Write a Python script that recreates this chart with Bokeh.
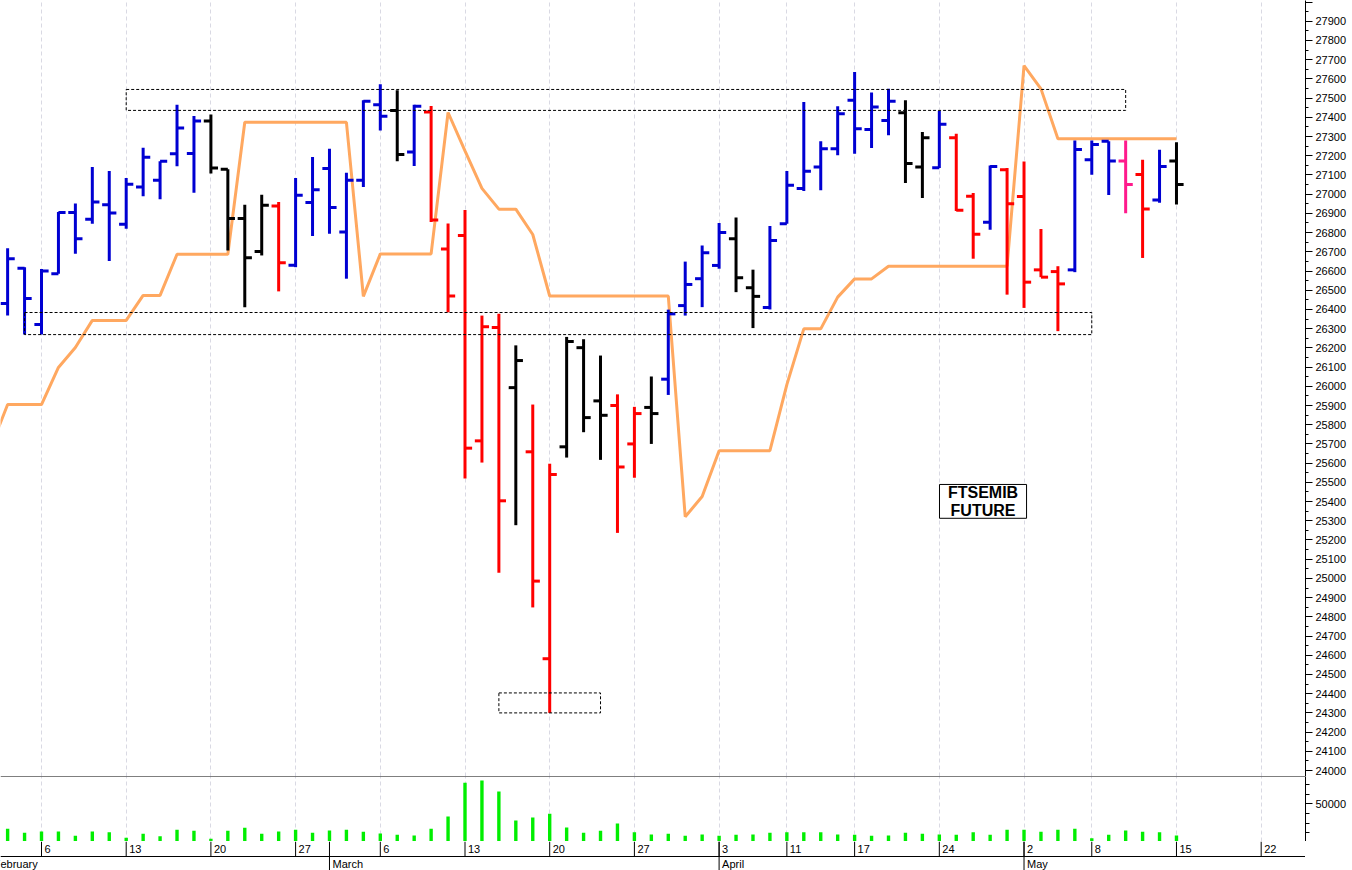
import numpy as np
import pandas as pd
from bokeh.plotting import figure
from bokeh.layouts import column
from bokeh.models import (Range1d, LinearAxis, FixedTicker, Grid, Span, Label,
                          BoxAnnotation, ColumnDataSource)
from bokeh.core.properties import value
from bokeh.embed import file_html
from bokeh.resources import INLINE

# ---------------- data ----------------
holidays = ["2023-04-07", "2023-04-10", "2023-05-01"]
first_bar = "2023-02-02"

opens = [26431, 26615, 26322, 26586, 26905, 26869, 26945, 26843, 27037, 27072,
         27211, 27212, 27381, 27130, 26873, 26702, 26938, 26630, 26956, 27133,
         26803, 27072, 27466, 27436, 27219, 27428, 26714, 26785, 25716, 26306,
         25993, 25659, 24582, 25685, 26201, 25924, 25900, 25700, 25890, 26037,
         26420, 26560, 26629, 26768, 26513, 26410, 26846, 27029, 27141, 27237,
         27489, 27336, 27384, 27424, 27141, 27138, 27294, 26989, 26854, 27127,
         26988, 26606, 26597, 26606, 27179, 27275, 27172, 27102, 26970, 27172]
highs = [26718, 26620, 26610, 26907, 26951, 27141, 27120, 27084, 27242, 27171,
         27466, 27407, 27414, 27130, 26945, 26997, 26959, 27084, 27193, 27237,
         27112, 27489, 27572, 27541, 27466, 27459, 26847, 26917, 26368, 26377,
         26213, 25905, 25597, 26257, 26245, 26160, 25958, 25893, 26051, 26399,
         26649, 26733, 26850, 26878, 26607, 26834, 27120, 27480, 27275, 27457,
         27636, 27529, 27549, 27489, 27323, 27433, 27315, 27006, 27149, 27136,
         27170, 26819, 26625, 27279, 27279, 27275, 27279, 27179, 27231, 27270]
lows = [26369, 26270, 26270, 26586, 26690, 26846, 26652, 26820, 26989, 26973,
        27145, 27008, 27107, 26707, 26412, 26681, 26494, 26620, 26782, 26794,
        26560, 27037, 27332, 27171, 27146, 26855, 26385, 25520, 25603, 25030,
        25277, 24849, 24300, 25629, 25761, 25617, 25237, 25524, 25700, 25955,
        26368, 26412, 26612, 26490, 26303, 26400, 26846, 27016, 27020, 27202,
        27211, 27240, 27306, 27058, 26980, 27136, 26912, 26664, 26815, 26477,
        26408, 26568, 26287, 26594, 27101, 26996, 26901, 26668, 26955, 26946]
closes = [26664, 26457, 26600, 26905, 26768, 26959, 26902, 27051, 27192, 27171,
          27344, 27381, 27136, 26873, 26669, 26942, 26643, 26994, 27023, 26930,
          27072, 27483, 27405, 27207, 27457, 26866, 26470, 25678, 26310, 25404,
          26134, 24986, 25541, 26233, 25837, 25849, 25580, 25858, 25858, 26377,
          26530, 26695, 26800, 26565, 26468, 26759, 27046, 27119, 27237, 27419,
          27341, 27454, 27483, 27159, 27294, 27364, 26916, 26791, 27144, 26950,
          26542, 26568, 26533, 27232, 27258, 27172, 27050, 26923, 27144, 27050]
bar_state = (["b"] * 12 + ["k"] * 4 + ["r"] + ["b"] * 6 + ["k"] + ["b"] + ["r"] * 5
             + ["k"] + ["r"] * 2 + ["k"] * 3 + ["r"] * 2 + ["k"] + ["b"] * 4 + ["k"] * 2
             + ["b"] * 8 + ["k"] * 2 + ["b"] + ["r"] * 2 + ["b"] + ["r"] * 4 + ["b"] * 3
             + ["p"] + ["r"] + ["b"] + ["k"])
volume = [24200, 20100, 21400, 21400, 17000, 21400, 20700, 14900, 19100, 16600,
          23200, 22200, 13900, 22200, 25300, 19100, 21400, 23200, 20100, 22500,
          23200, 21100, 19400, 18000, 17300, 24200, 36900, 71600, 74000, 62700,
          32800, 35900, 39700, 25600, 20100, 22200, 29700, 20700, 18300, 19100,
          17000, 18300, 17000, 18000, 18300, 20100, 20700, 20700, 20700, 18300,
          18000, 17000, 17300, 20100, 19100, 18300, 18000, 20700, 18000, 23200,
          23200, 21100, 23200, 24200, 14500, 18000, 22500, 21100, 20700, 17300]

stop_start = "2023-02-01"
stop_line = ([25680, 25905, 25905, 25905, 26098, 26202, 26343, 26343, 26343,
              26473, 26473] + [26687] * 4 + [27374] * 7 + [26468] + [26689] * 4
             + [27425, 27225, 27030, 26922, 26922, 26790] + [26470] * 8
             + [25321, 25426] + [25665] * 4 + [26009, 26299, 26299, 26464, 26559, 26559]
             + [26625] * 8 + [27669, 27548] + [27288] * 8)

zone_left = ["2023-02-13", "2023-02-03", "2023-03-15"]
zone_right = ["2023-05-10", "2023-05-08", "2023-03-23"]
zone_bottom = [27436, 26269, 24300]
zone_top = [27545, 26384, 24404]

price_ticks = list(range(24000, 28001, 100))
volume_label_ticks = [50000]
volume_minor_ticks = [20000, 30000, 40000, 60000, 70000]
title_text = "FTSEMIB\nFUTURE"

# ---------------- layout / style ----------------
BAR_COLORS = {"b": "#0000d2", "k": "#000000", "r": "#ff0000", "p": "#ff1a8c"}
FONT = "Liberation Sans"
FW, H1, H2, H3 = 1305, 776, 65, 29
PRICE_LO, PRICE_HI = 23969, 28008
VOL_LO, VOL_HI = 11130, 78150

cal = pd.bdate_range("2023-02-01", "2023-05-31")
cal = cal[~cal.isin(pd.to_datetime(holidays))]
pos = {d: k for k, d in enumerate(cal)}


def xi(d):
    return pos[pd.Timestamp(d)]


feb6 = xi("2023-02-06")
X_START = feb6 - 41 / 16.94
X_END = feb6 + (1305 - 41) / 16.94
XR = Range1d(X_START, X_END)

x0 = xi(first_bar)
xs = x0 + np.arange(len(opens))
TICK = 0.42
src = ColumnDataSource(dict(
    x=xs, xl=xs - TICK, xr=xs + TICK, o=opens, h=highs, l=lows, c=closes,
    color=[BAR_COLORS[s] for s in bar_state]))

week_x, week_lbl, month_x, month_lbl = [], [], [], []
for k, d in enumerate(cal):
    if k > X_END - 1:
        break
    if k > 0 and d.isocalendar()[1] != cal[k - 1].isocalendar()[1]:
        week_x.append(k)
        week_lbl.append(str(d.day))
    if k == 0 or d.month != cal[k - 1].month:
        month_x.append(k)
        month_lbl.append(d.strftime("%B"))

common = dict(frame_width=FW, x_range=XR, output_backend="svg", toolbar_location=None,
              x_axis_location=None, y_axis_location=None, min_border=0,
              outline_line_color=None, background_fill_color="white",
              border_fill_color="white")


def clean(p):
    p.center = [r for r in p.center if not isinstance(r, Grid)]
    return p


def week_grid():
    return Grid(dimension=0, ticker=FixedTicker(ticks=week_x),
                grid_line_color="#d9d9e3", grid_line_dash="4 3")


# ---------------- price panel ----------------
p1 = clean(figure(frame_height=H1, y_range=Range1d(PRICE_LO, PRICE_HI), **common))
p1.add_layout(week_grid())
ax1 = LinearAxis(ticker=FixedTicker(ticks=price_ticks,
                                    minor_ticks=list(range(24050, 28000, 100))),
                 major_label_overrides={28000: ""},
                 major_tick_out=7, major_tick_in=0, minor_tick_out=3, minor_tick_in=0,
                 major_label_standoff=3, major_label_text_font=FONT,
                 major_label_text_font_size="11px", major_label_text_color="black",
                 axis_line_color="black", major_tick_line_color="black",
                 minor_tick_line_color="black")
p1.add_layout(ax1, "right")

stop_x = xi(stop_start) + np.arange(len(stop_line))
p1.line(stop_x, stop_line, line_color="#ffa860", line_width=3)

p1.segment(x0="x", y0="l", x1="x", y1="h", line_color="color", line_width=3,
           line_cap="butt", source=src)
p1.segment(x0="xl", y0="o", x1="x", y1="o", line_color="color", line_width=3,
           line_cap="butt", source=src)
p1.segment(x0="x", y0="c", x1="xr", y1="c", line_color="color", line_width=3,
           line_cap="butt", source=src)

p1.quad(left=[xi(d) for d in zone_left], right=[xi(d) for d in zone_right],
        bottom=zone_bottom, top=zone_top, fill_color=None, line_color="black",
        line_width=1, line_dash="3 2")

box_c = xi("2023-04-26") + 0.58
p1.add_layout(BoxAnnotation(left=box_c - 2.57, right=box_c + 2.57, bottom=25313,
                            top=25489, fill_color="white", fill_alpha=1.0,
                            line_color="black", line_alpha=1.0, line_width=1))
p1.add_layout(Label(x=box_c, y=25401, text=title_text, text_align="center",
                    text_baseline="middle", text_font=FONT, text_font_style="bold",
                    text_font_size="16px", text_color="black", text_line_height=1.05))

# ---------------- volume panel ----------------
p2 = clean(figure(frame_height=H2, y_range=Range1d(VOL_LO, VOL_HI), **common))
p2.add_layout(week_grid())
ax2 = LinearAxis(ticker=FixedTicker(ticks=volume_label_ticks, minor_ticks=volume_minor_ticks),
                 major_tick_out=7, major_tick_in=0, minor_tick_out=4, minor_tick_in=0,
                 major_label_standoff=3, major_label_text_font=FONT,
                 major_label_text_font_size="11px", major_label_text_color="black",
                 axis_line_color="black", major_tick_line_color="black",
                 minor_tick_line_color="black")
p2.add_layout(ax2, "right")
p2.vbar(x=xs, top=volume, bottom=0, width=0.2, fill_color="#00ee00", line_color=None)
p2.add_layout(Span(location=VOL_HI, dimension="width", line_color="black", line_width=1))
p2.add_layout(Span(location=VOL_LO, dimension="width", line_color="black", line_width=1))

# ---------------- date rows ----------------
p3 = clean(figure(frame_height=H3, y_range=Range1d(0, 29), **common))
p3.add_layout(Span(location=14, dimension="width", line_color="black", line_width=1))
p3.segment(x0=week_x, y0=14, x1=week_x, y1=29, line_color="black", line_width=1)
p3.segment(x0=month_x, y0=0, x1=month_x, y1=29, line_color="black", line_width=1)
p3.text(x=week_x, y=21.5, text=week_lbl, x_offset=3, text_align="left",
        text_baseline="middle", text_font=value(FONT), text_font_size="11px",
        text_color="black")
p3.text(x=month_x, y=6.5, text=month_lbl, x_offset=3, text_align="left",
        text_baseline="middle", text_font=value(FONT), text_font_size="11px",
        text_color="black")

layout = column(p1, p2, p3, spacing=0)
open("out.html", "w").write(file_html(layout, INLINE, title="FTSEMIB FUTURE"))
